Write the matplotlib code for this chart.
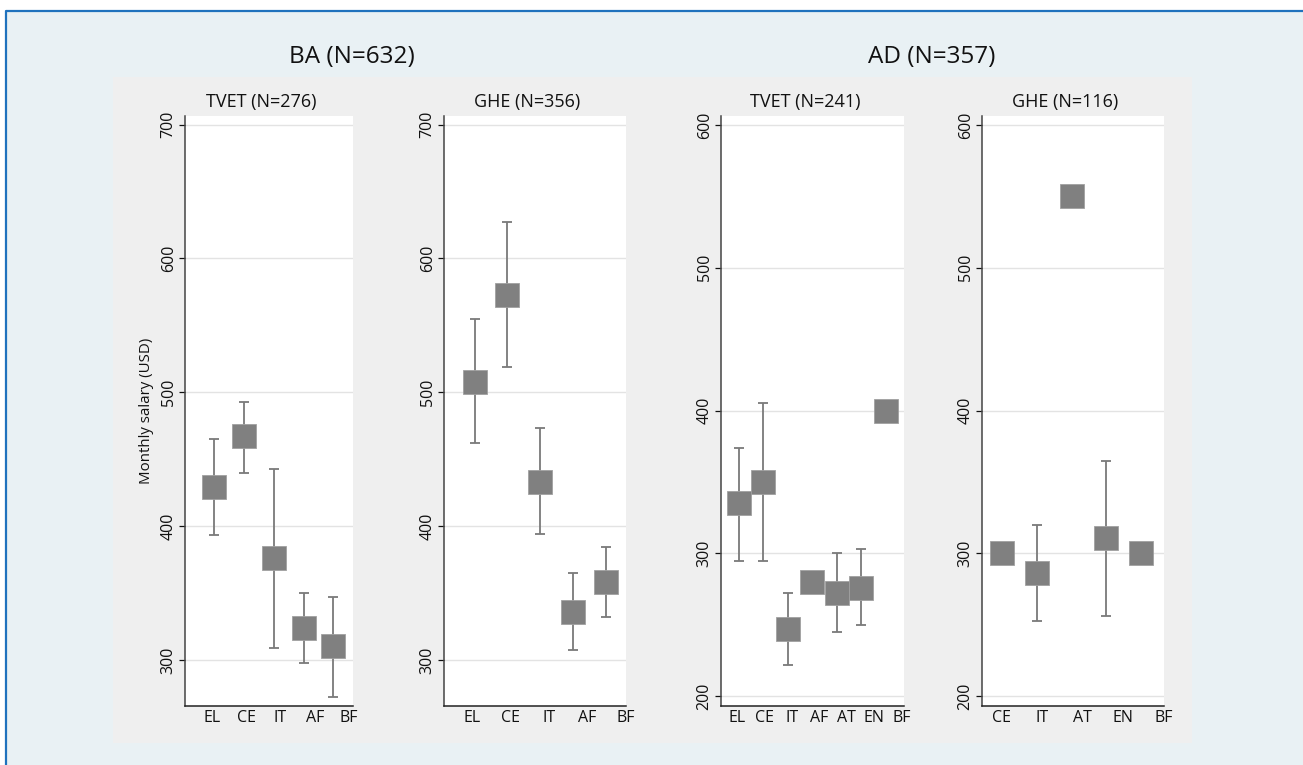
import numpy as np
import matplotlib
matplotlib.use("Agg")
import matplotlib.pyplot as plt
from matplotlib.patches import Rectangle
from matplotlib.lines import Line2D

plt.rcParams['font.family'] = ['Open Sans', 'DejaVu Sans']

# ---------------- data ----------------
group_titles = ["BA (N=632)", "AD (N=357)"]
panel_titles = ["TVET (N=276)", "GHE (N=356)", "TVET (N=241)", "GHE (N=116)"]
ylabel = "Monthly salary (USD)"

cats_ba_tvet = ["EL", "CE", "IT", "AF", "BF"]
mean_ba_tvet = [429, 467, 376, 324, 310]
lo_ba_tvet = [393, 440, 309, 298, 272]
hi_ba_tvet = [465, 493, 443, 350, 347]

cats_ba_ghe = ["EL", "CE", "IT", "AF", "BF"]
mean_ba_ghe = [508, 573, 433, 336, 358]
lo_ba_ghe = [462, 519, 394, 307, 332]
hi_ba_ghe = [555, 627, 473, 365, 384]

cats_ad_tvet = ["EL", "CE", "IT", "AF", "AT", "EN", "BF"]
mean_ad_tvet = [335, 350, 247, 280, 272, 276, 400]
lo_ad_tvet = [295, 295, 222, np.nan, 245, 250, np.nan]
hi_ad_tvet = [374, 405, 272, np.nan, 300, 303, np.nan]

cats_ad_ghe = ["CE", "IT", "AT", "EN", "BF"]
mean_ad_ghe = [300, 286, 550, 311, 300]
lo_ad_ghe = [np.nan, 253, np.nan, 256, np.nan]
hi_ad_ghe = [np.nan, 320, np.nan, 365, np.nan]

yticks_ba = [300, 400, 500, 600, 700]
yticks_ad = [200, 300, 400, 500, 600]

# ---------------- layout (pixels) ----------------
W, H = 1303, 765
fig = plt.figure(figsize=(W / 100, H / 100), dpi=100)
fig.patch.set_facecolor('#E9F1F4')


def fx(x):
    return x / W


def fy(y):
    return 1 - y / H


# white strips and blue frame
fig.add_artist(Rectangle((0, fy(10)), 1, 10 / H, transform=fig.transFigure,
                         facecolor='white', edgecolor='none', zorder=0))
fig.add_artist(Rectangle((0, 0), fx(5), 1, transform=fig.transFigure,
                         facecolor='white', edgecolor='none', zorder=0))
fig.add_artist(Line2D([fx(6), fx(6), 1.01], [-0.01, fy(11), fy(11)],
                      transform=fig.transFigure, color='#1F72BD', lw=1.6, zorder=1))
# gray plot region
fig.add_artist(Rectangle((fx(113), fy(743)), fx(1192) - fx(113), fy(77) - fy(743),
                         transform=fig.transFigure, facecolor='#EFEFEF',
                         edgecolor='none', zorder=0))

panels = [
    dict(cats=cats_ba_tvet, mean=mean_ba_tvet, lo=lo_ba_tvet, hi=hi_ba_tvet,
         left=185, right=353, xlim=(0.025, 5.66), lab0=0.93, labstep=1.15,
         yticks=yticks_ba, ylim=(265.5, 706.7)),
    dict(cats=cats_ba_ghe, mean=mean_ba_ghe, lo=lo_ba_ghe, hi=hi_ba_ghe,
         left=444, right=626, xlim=(0.066, 5.62), lab0=0.93, labstep=1.17,
         yticks=yticks_ba, ylim=(265.5, 706.7)),
    dict(cats=cats_ad_tvet, mean=mean_ad_tvet, lo=lo_ad_tvet, hi=hi_ad_tvet,
         left=721, right=904, xlim=(0.28, 7.75), lab0=0.93, labstep=1.122,
         yticks=yticks_ad, ylim=(193.2, 606.5)),
    dict(cats=cats_ad_ghe, mean=mean_ad_ghe, lo=lo_ad_ghe, hi=hi_ad_ghe,
         left=982, right=1164, xlim=(0.41, 5.61), lab0=0.98, labstep=1.174,
         yticks=yticks_ad, ylim=(193.2, 606.5)),
]

top_px, bottom_px = 115.7, 706
marker_color = '#808080'

for i, p in enumerate(panels):
    ax = fig.add_axes([fx(p['left']), fy(bottom_px), fx(p['right']) - fx(p['left']),
                       fy(top_px) - fy(bottom_px)])
    ax.set_facecolor('white')
    n = len(p['cats'])
    xs = np.arange(1, n + 1)
    mean = np.array(p['mean'], dtype=float)
    lo = np.array(p['lo'], dtype=float)
    hi = np.array(p['hi'], dtype=float)
    ok = ~np.isnan(lo)
    ax.vlines(xs[ok], lo[ok], hi[ok], color='#7A7A7A', lw=1.3, zorder=2)
    ax.plot(xs[ok], lo[ok], ls='none', marker='_', ms=7, mew=1.3, color='#7A7A7A', zorder=2)
    ax.plot(xs[ok], hi[ok], ls='none', marker='_', ms=7, mew=1.3, color='#7A7A7A', zorder=2)
    ax.plot(xs, mean, ls='none', marker='s', ms=17.8, mfc=marker_color,
            mec='#A0A0A0', mew=0.6, zorder=3)

    ax.set_xlim(*p['xlim'])
    ax.set_ylim(*p['ylim'])
    labpos = p['lab0'] + p['labstep'] * np.arange(n)
    ax.set_xticks(labpos)
    ax.set_xticklabels(p['cats'])
    ax.tick_params(axis='x', length=0, pad=3, labelsize=11.5, colors='#111111')
    ax.set_yticks(p['yticks'])
    ax.set_yticklabels([str(v) for v in p['yticks']], rotation=90, va='center')
    ax.tick_params(axis='y', length=4.5, width=0.9, pad=1.5, labelsize=11.5,
                   colors='#111111')
    ax.grid(axis='y', color='#E3E3E3', lw=1.0)
    ax.set_axisbelow(True)
    for s in ['top', 'right']:
        ax.spines[s].set_visible(False)
    ax.spines['left'].set_color('#444444')
    ax.spines['bottom'].set_color('#222222')
    ax.spines['left'].set_linewidth(1.1)
    ax.spines['bottom'].set_linewidth(1.1)

    cx = (p['left'] + p['right']) / 2 - 7.5
    fig.text(fx(cx), fy(102), panel_titles[i], ha='center', va='center',
             fontsize=13, color='#111111')

fig.text(fx(352), fy(57), group_titles[0], ha='center', va='center', fontsize=17.5,
         color='#111111')
fig.text(fx(932), fy(57), group_titles[1], ha='center', va='center', fontsize=17.5,
         color='#111111')
fig.text(fx(146), fy(411), ylabel, ha='center', va='center', rotation=90,
         fontsize=10.8, color='#111111')

fig.savefig('out.png', dpi=100, facecolor=fig.get_facecolor())
